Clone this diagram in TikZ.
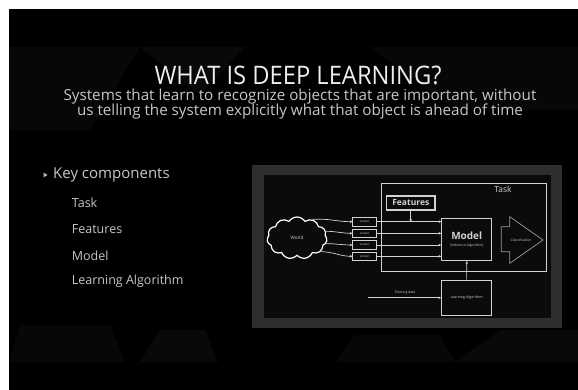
\documentclass[tikz,border=0pt]{standalone}
\usepackage{fontspec}
\setmainfont{Open Sans}
\usetikzlibrary{shapes.symbols,arrows.meta}
\definecolor{framegray}{HTML}{2E2E2E}
\definecolor{panelblack}{HTML}{0B0B0B}
\definecolor{linegray}{HTML}{D2D2D2}
\definecolor{dimgray}{HTML}{9A9A9A}
\definecolor{titlewhite}{HTML}{EEEEEE}
\definecolor{subgray}{HTML}{C6C6C6}
\definecolor{facetA}{HTML}{070707}
\definecolor{facetB}{HTML}{090909}

\begin{document}
\begin{tikzpicture}[x=1pt,y=-1pt,
  box/.style={draw=linegray, line width=1.1pt, inner sep=0pt, text=linegray},
  sensorbox/.style={draw=linegray, line width=0.6pt, inner sep=0pt,
    minimum width=24pt, minimum height=8.5pt, text=linegray,
    font=\fontsize{3}{3}\selectfont},
  link/.style={draw=linegray, line width=0.7pt,
    -{Stealth[length=2.6pt,width=2.6pt]}},
  tiny/.style={text=linegray, font=\fontsize{3.4}{4}\selectfont},
  subline/.style={anchor=base, text=subgray, inner sep=0pt,
    font=\fontsize{15.2}{15}\selectfont},
  itemtext/.style={anchor=west, text=subgray, inner sep=0pt,
    font=\fontsize{12.5}{14}\selectfont}
]
\useasboundingbox (0,0) rectangle (578,390);

% slide background
\fill[white] (0,0) rectangle (578,390);
\fill[black] (9,9) rectangle (578,390);

% faint facets of the slide theme
\fill[facetA] (9,47) -- (140,47) -- (90,130) -- (9,130) -- cycle;
\fill[facetB] (140,47) -- (245,47) -- (200,95) -- cycle;
\fill[facetA] (370,47) -- (578,47) -- (578,110) -- (455,110) -- cycle;
\fill[facetA] (9,362) -- (20,325) -- (110,325) -- (125,362) -- cycle;
\fill[facetB] (140,362) -- (160,330) -- (205,330) -- (218,362) -- cycle;
\fill[facetA] (335,362) -- (355,335) -- (440,335) -- (455,362) -- cycle;
\fill[facetB] (455,362) -- (500,330) -- (578,330) -- (578,362) -- cycle;

% headings
\node[anchor=base, text=titlewhite, inner sep=0pt,
  font=\fontsize{25.5}{30}\selectfont] (title) at (298,85)
  {\scalebox{0.93}[1]{WHAT IS DEEP LEARNING?}};
\node[subline] (sub1) at (300,101)
  {Systems that learn to recognize objects that are important, without};
\node[subline] (sub2) at (300,115.5)
  {us telling the system explicitly what that object is ahead of time};

% bullet list
\fill[dimgray!70] (43.5,172.5) -- (47.5,175) -- (43.5,177.5) -- cycle;
\node[anchor=west, text=subgray, font=\fontsize{15}{17}\selectfont,
  inner sep=0pt] (key) at (53,175) {Key components};
\node[itemtext] (itask) at (71.7,202.7) {Task};
\node[itemtext] (ifeat) at (71.7,229) {Features};
\node[itemtext] (imodel) at (71.7,255.7) {Model};
\node[itemtext] (ilearn) at (71.7,281.7) {Learning Algorithm};

% diagram panel
\fill[framegray] (252,165) rectangle (562,328);
\fill[panelblack] (264,175.5) rectangle (551,318);

% task frame
\node[box, anchor=north west, minimum width=165pt, minimum height=88pt]
  (task) at (381,183) {};
\node[text=linegray, font=\fontsize{8.5}{9}\selectfont] (tasklbl) at (503,189.5) {Task};

% world
\node[cloud, cloud puffs=11, cloud puff arc=115, aspect=1.5, draw=white,
  line width=1.2pt, minimum width=60pt, minimum height=42pt, inner sep=0pt,
  text=linegray, font=\fontsize{4.6}{5}\selectfont] (world) at (297,238) {World};

% sensors
\node[sensorbox] (s1) at (364.7,221.7) {sensor};
\node[sensorbox] (s2) at (364.7,233.3) {sensor};
\node[sensorbox] (s3) at (364.7,245) {sensor};
\node[sensorbox] (s4) at (364.7,256.3) {sensor};

% features, model, learning algorithm
\node[box, minimum width=48.3pt, minimum height=14pt,
  font=\fontsize{8.5}{9}\selectfont\bfseries] (feat) at (410.8,203) {Features};
\node[box, minimum width=50pt, minimum height=42pt] (model) at (466.7,239.6) {};
\node[text=linegray, font=\fontsize{10}{11}\selectfont\bfseries] (modellbl)
  at (466.7,235.5) {Model};
\node[tiny] (inflbl) at (466.7,246) {(Inference Algorithm)};
\node[box, minimum width=50pt, minimum height=35.5pt,
  font=\fontsize{3.6}{4}\selectfont] (learn) at (466.6,297.8) {Learning Algorithm};

% classification arrow
\node[tiny] (cls) at (521,240) {Classification};
\draw[dimgray, line width=0.7pt] (501.3,226.7) -- (509.7,226.7) -- (509.7,216.7)
  -- (543,240) -- (509.7,263.3) -- (509.7,251.7) -- (501.3,251.7) -- cycle;

% world to sensors
\draw[link] (world.50) to[out=5,in=180] (s1.west);
\draw[link] (world.13) to[out=0,in=180] (s2.west);
\draw[link] (world.-11) to[out=0,in=180] (s3.west);
\draw[link] (world.-30) to[out=0,in=180] (s4.west);

% sensors to model
\draw[link] (s1.east) -- (s1.east -| model.west);
\draw[link] (s2.east) -- (s2.east -| model.west);
\draw[link] (s3.east) -- (s3.east -| model.west);
\draw[link] (s4.east) -- (s4.east -| model.west);

% features feed the first sensor line
\coordinate (fhit) at (feat.south |- s1.east);
\draw[link] (feat.south) -- (fhit);

% training
\draw[link] (learn.north) -- (model.south);
\coordinate (tstart) at (368.3,297.8);
\draw[link] (tstart) -- (learn.west);
\node[tiny] (tlbl) at (405,293) {Training data};
\end{tikzpicture}
\end{document}
